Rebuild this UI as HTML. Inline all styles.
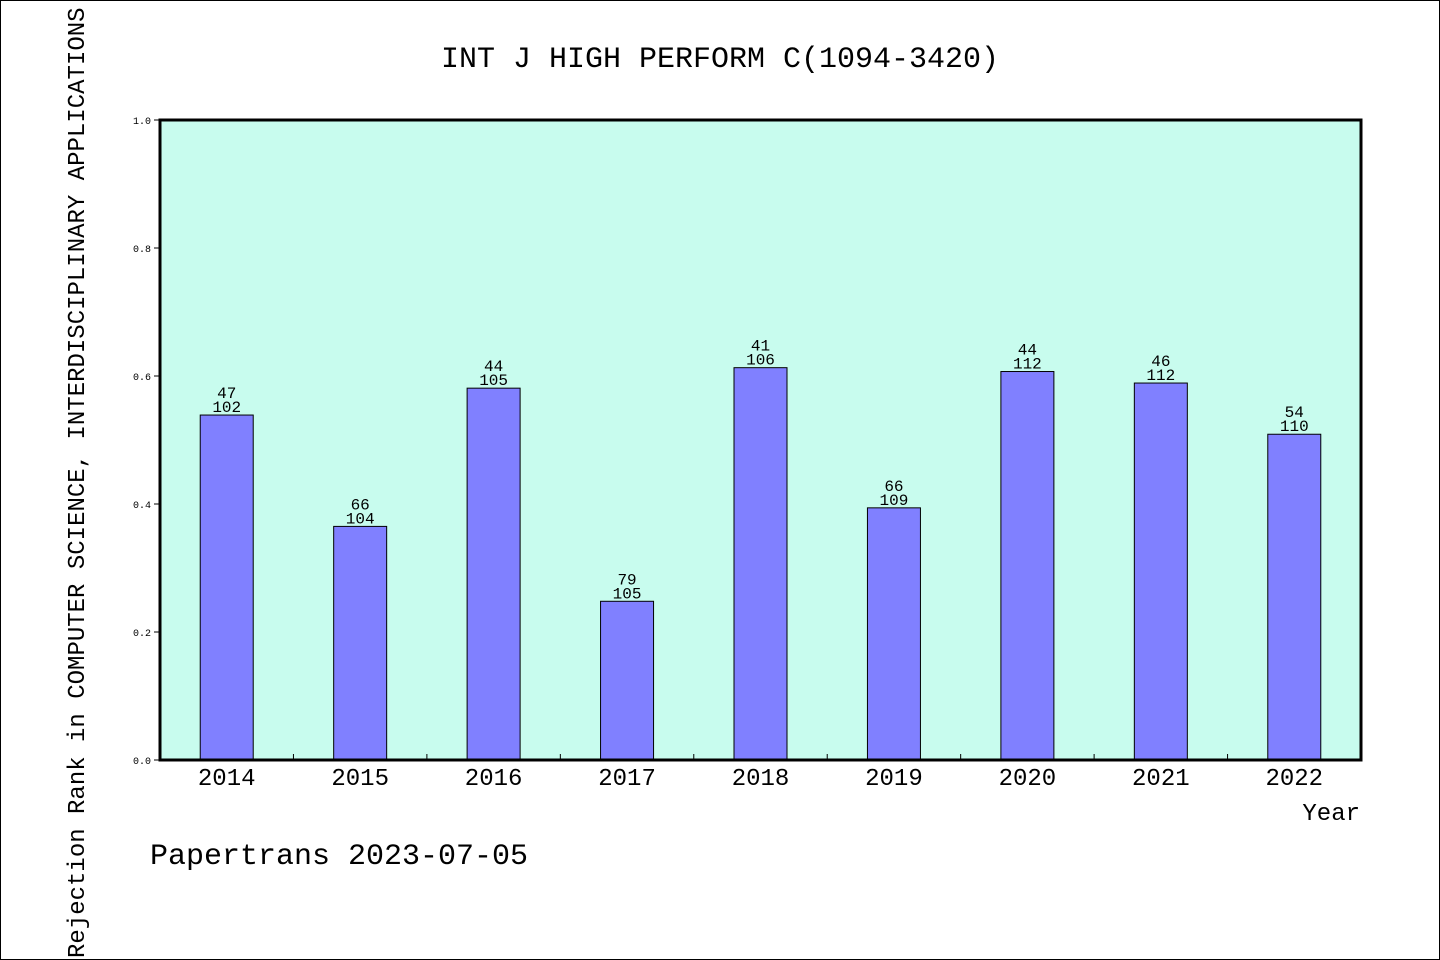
<!DOCTYPE html>
<html><head><meta charset="utf-8"><style>
html,body{margin:0;padding:0;background:#fff}
svg{display:block}
text{font-family:"WenQuanYi Zen Hei","Liberation Mono",monospace;fill:#000}
</style></head><body>
<svg id="chart" width="1440" height="960">
<rect x="0.5" y="0.5" width="1439" height="959" fill="#fff" stroke="#000"/>
<text x="720" y="67" font-size="30" text-anchor="middle">INT J HIGH PERFORM C(1094-3420)</text>
<rect x="160" y="120" width="1201" height="640" fill="#c8fcee"/>
<g id="yticks"></g>
<g id="bars"></g>
<g id="xticks"></g>
<rect x="160" y="120" width="1201" height="640" fill="none" stroke="#000" stroke-width="3"/>
<text x="1360" y="820" font-size="24" text-anchor="end">Year</text>
<text x="150" y="864" font-size="30">Papertrans 2023-07-05</text>
<text transform="translate(84,958) rotate(-90)" font-size="24">Rejection Rank in COMPUTER SCIENCE,  INTERDISCIPLINARY APPLICATIONS</text>
</svg>
<script>
const years=["2014","2015","2016","2017","2018","2019","2020","2021","2022"];
const ranks=[47,66,44,79,41,66,44,46,54];
const totals=[102,104,105,105,106,109,112,112,110];
const values=[0.539,0.365,0.581,0.248,0.613,0.394,0.607,0.589,0.509];
const yTickLabels=["0.0","0.2","0.4","0.6","0.8","1.0"];
const yTickValues=[0,0.2,0.4,0.6,0.8,1.0];
const NS="http://www.w3.org/2000/svg";
const X0=160,X1=1361,Y0=760,Y1=120;
const band=(X1-X0)/years.length;
const xc=i=>X0+(i+0.5)*band;
const y=v=>Y0-(Y0-Y1)*v;
function mk(tag,attrs,parent){const e=document.createElementNS(NS,tag);for(const k in attrs)e.setAttribute(k,attrs[k]);parent.appendChild(e);return e;}
const yt=document.getElementById('yticks');
yTickValues.forEach((v,i)=>{
  const l=mk('line',{x1:154,x2:160,y1:y(v),y2:y(v),stroke:'#000'},yt);
  
  
  const t=mk('text',{x:151,y:y(v)+4,'font-size':10,'text-anchor':'end'},yt);
  t.textContent=yTickLabels[i];
  
  
});
const bg=document.getElementById('bars');
years.forEach((yr,i)=>{
  const w=53,top=y(values[i]);
  const r=mk('rect',{x:xc(i)-w/2,y:top,width:w,height:Y0-top,fill:'#8080ff',stroke:'#000','stroke-width':1},bg);
  
  
  const t1=mk('text',{x:xc(i),y:top-17,'font-size':16,'text-anchor':'middle'},bg);
  t1.textContent=ranks[i];
  
  
  const t2=mk('text',{x:xc(i),y:top-3,'font-size':16,'text-anchor':'middle'},bg);
  t2.textContent=totals[i];
  
  
  const xl=mk('text',{x:xc(i),y:785,'font-size':24,'text-anchor':'middle'},bg);
  xl.textContent=yr;
  
  
});
const xt=document.getElementById('xticks');
for(let i=1;i<years.length;i++){
  const x=X0+i*band;
  const l=mk('line',{x1:x,x2:x,y1:Y0-6,y2:Y0,stroke:'#000'},xt);
  
  
}
</script>
</body></html>
